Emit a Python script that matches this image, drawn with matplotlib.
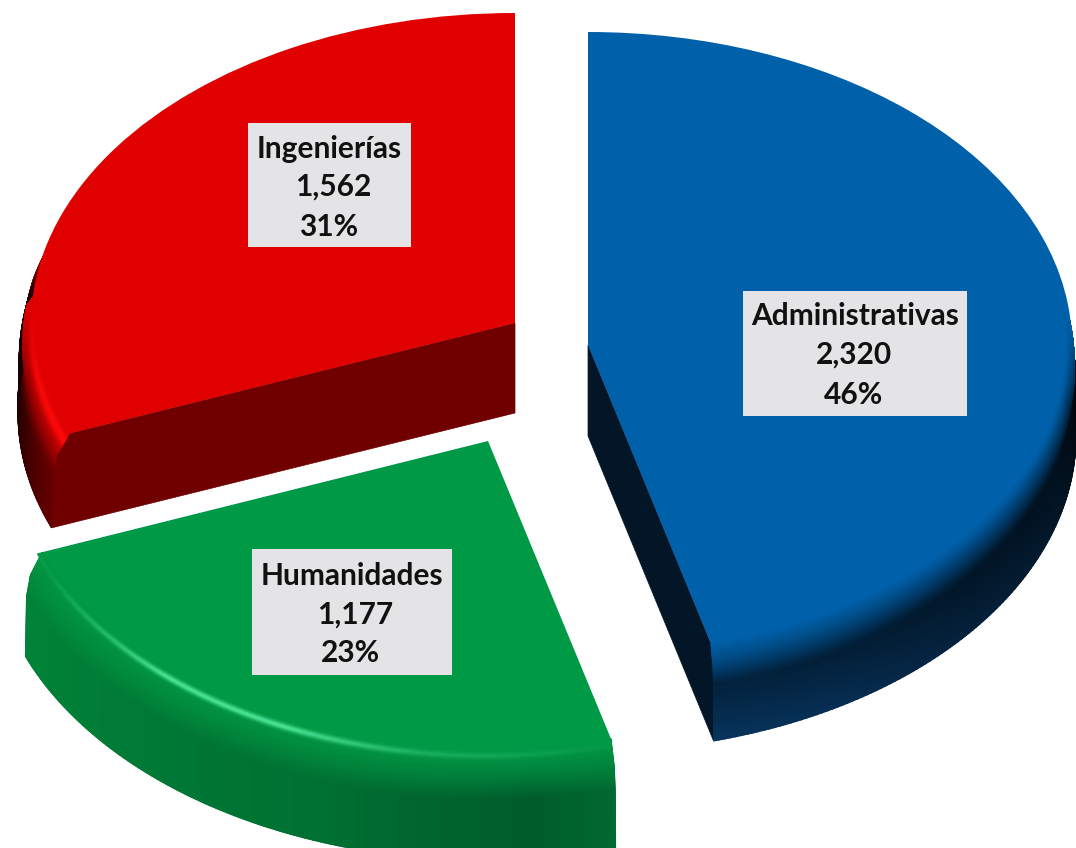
import numpy as np
import matplotlib
matplotlib.use('Agg')
import matplotlib.pyplot as plt
from matplotlib.patches import Wedge, Polygon, Rectangle
from matplotlib.transforms import Affine2D

# data
categories = ['Administrativas', 'Humanidades', 'Ingenierías']
values = [2320, 1177, 1562]
value_labels = ['2,320', '1,177', '1,562']
pct_labels = ['46%', '23%', '31%']

# layout, in pixels of the reference: apex, radii, wall depth, rim bulge
apex = {'Administrativas': (588, 345), 'Humanidades': (488, 441), 'Ingenierías': (515, 323)}
radius = {'Administrativas': (484, 313), 'Humanidades': (484, 312), 'Ingenierías': (484, 310)}
depth = {'Administrativas': 91, 'Humanidades': 100, 'Ingenierías': 90}
bulge = {'Administrativas': 4, 'Humanidades': 12, 'Ingenierías': 13}
top_col = {'Administrativas': '#0060a9', 'Humanidades': '#009a47', 'Ingenierías': '#e00000'}
wall_dark = {'Administrativas': '#02213c', 'Humanidades': '#005c2b', 'Ingenierías': '#6e0000'}
wall_low = {'Administrativas': '#0b4173', 'Humanidades': '#037a38', 'Ingenierías': '#8a0000'}
glow_col = {'Administrativas': '#0060a9', 'Humanidades': '#4fe89a', 'Ingenierías': '#ff0a0a'}
face_col = {'Administrativas': '#021628', 'Ingenierías': '#700000'}
boxes = {'Administrativas': (743, 291, 224, 125), 'Humanidades': (252, 549, 200, 126),
         'Ingenierías': (248, 123, 163, 124)}
text_xy = {'Administrativas': [(855, 316), (854, 355), (854, 395)],
           'Humanidades': [(352, 576), (355, 615), (350, 653)],
           'Ingenierías': [(329, 149), (333, 187), (329, 227)]}


def hex_rgb(c):
    return np.array(matplotlib.colors.to_rgb(c))


def wall_colors(name, th, s):
    # th in degrees, s from 0 (rim) to 1 (bottom of the wall)
    top = hex_rgb(top_col[name])
    dark = hex_rgb(wall_dark[name])
    low = hex_rgb(wall_low[name])
    glow = hex_rgb(glow_col[name])
    T, S = np.meshgrid(th, s)
    w_dark = np.interp(S, [0, 0.12, 0.4, 1], [0, 0.25, 1, 1])[..., None]
    w_low = np.interp(S, [0.35, 1], [0, 1])[..., None]
    out = top * (1 - w_dark) + dark * w_dark
    if name == 'Humanidades':
        # wall gets lighter towards the left, darkest near the right end
        left = np.interp(T, [205, 250, 275, 285], [0.65, 0.35, 0.0, 0.25])[..., None]
        out = out * (1 - left) + hex_rgb('#00963f') * left
        w_glow = np.exp(-((S - 0.05) / 0.022) ** 2) * np.interp(T, [205, 218, 228, 245, 262, 285], [0.1, 0.5, 1, 1, 0.35, 0.05])
    elif name == 'Ingenierías':
        w_glow = np.exp(-((S - 0.08) / 0.05) ** 2) * np.interp(T, [150, 185, 200], [0.0, 0.7, 1])
        # black shadow towards the outer silhouette
        edge = np.interp(T, [150, 170, 185, 200], [0.3, 0.85, 0.6, 0.1]) * np.interp(S, [0.1, 0.5, 1], [0, 1, 1])
        out = out * (1 - edge[..., None])
    else:
        out = out * (1 - w_low * 0.6) + low * w_low * 0.6
        w_glow = np.zeros_like(S)
        # fades to black at the far right, bluer at the near end
        edge = np.interp(T, [-76, -60, -40, -15, 5, 30], [0, 0.1, 0.35, 0.55, 0.9, 0.3])
        out = out * (1 - edge[..., None] * np.interp(S, [0.05, 0.35], [0, 1])[..., None])
    out = out * (1 - w_glow[..., None]) + glow * w_glow[..., None]
    return np.clip(out, 0, 1)


def draw_slice(ax, name, th1, th2, end_at=None):
    cx, cy = apex[name]
    a, b = radius[name]
    d = depth[name]
    bl = bulge[name]
    ratio = b / a

    th = np.linspace(th1, th2, 241)
    s = np.linspace(0, 1, 81)
    rad = np.deg2rad(th)
    sin_th = np.sin(rad)
    # the bulge dies away towards the back so the wall stays behind the surface
    fade = np.clip((0.7 - sin_th) / 0.5, 0, 1)[None, :]
    dr = np.interp(s, [0, 0.2, 0.4, 1], [-6, bl * 0.55, bl * 0.9, bl])[:, None]
    R = a + dr * fade - 2 * (1 - fade)
    dz = s * d
    X = cx + R * np.cos(rad)[None, :]
    Y = cy - R * ratio * sin_th[None, :] + dz[:, None]
    C = wall_colors(name, th, s)

    if end_at is not None:
        # flat cut face from apex to the rim, along the wall's own end profile
        k = 0 if end_at == 'first' else -1
        pts = [(cx, cy)] + list(zip(X[:, k], Y[:, k])) + [(cx, cy + d)]
        ax.add_patch(Polygon(pts, closed=True, fc=face_col[name], ec=face_col[name], lw=0.5, zorder=2))

    # the back of the wall is never seen, leave it out
    seen = sin_th < 0.75
    ax.pcolormesh(X[:, seen], Y[:, seen], C[:, seen], shading='gouraud', zorder=3)

    tr = Affine2D().scale(a, -b).translate(cx, cy) + ax.transData
    ax.add_patch(Wedge((0, 0), 1, th1, th2, fc=top_col[name], ec='none', transform=tr, zorder=4))

    # rounded rim laid back over the surface edge, front part only, melting into the surface where it starts
    front = sin_th < 0.12
    rim = s <= 0.25
    w = np.clip((0.12 - sin_th[front]) / 0.25, 0, 1)[None, :, None]
    C_rim = C[rim][:, front] * w + hex_rgb(top_col[name]) * (1 - w)
    ax.pcolormesh(X[rim][:, front], Y[rim][:, front], C_rim, shading='gouraud', zorder=5)


def main():
    fig = plt.figure(figsize=(10.76, 8.48), dpi=100, facecolor='white')
    ax = fig.add_axes([0, 0, 1, 1])
    ax.set_xlim(0, 1076)
    ax.set_ylim(848, 0)
    ax.axis('off')

    total = sum(values)
    sweep = [v / total * 360 for v in values]

    # clockwise from 12 o'clock
    start = 90.0
    spans = {}
    for name, sw in zip(categories, sweep):
        spans[name] = (start - sw, start)
        start -= sw

    t1, t2 = spans['Administrativas']
    draw_slice(ax, 'Administrativas', t1, t2, end_at='first')

    # red runs from 12 o'clock round to the left, its cut face is at the far end
    t1, t2 = spans['Ingenierías']
    draw_slice(ax, 'Ingenierías', 90, t2 + 360, end_at='last')

    t1, t2 = spans['Humanidades']
    draw_slice(ax, 'Humanidades', t1 + 360, t2 + 360)

    for i, name in enumerate(categories):
        x, y, w, h = boxes[name]
        ax.add_patch(Rectangle((x, y), w, h, fc='#e4e3e5', ec='none', zorder=6))
        lines = [name, value_labels[i], pct_labels[i]]
        for line, (tx, ty) in zip(lines, text_xy[name]):
            ax.text(tx, ty, line, ha='center', va='center', fontsize=21.5, fontweight='bold',
                    family='Lato', color='#111111', zorder=7)

    fig.savefig('out.png', dpi=100, facecolor='white')


if __name__ == "__main__":
    main()
